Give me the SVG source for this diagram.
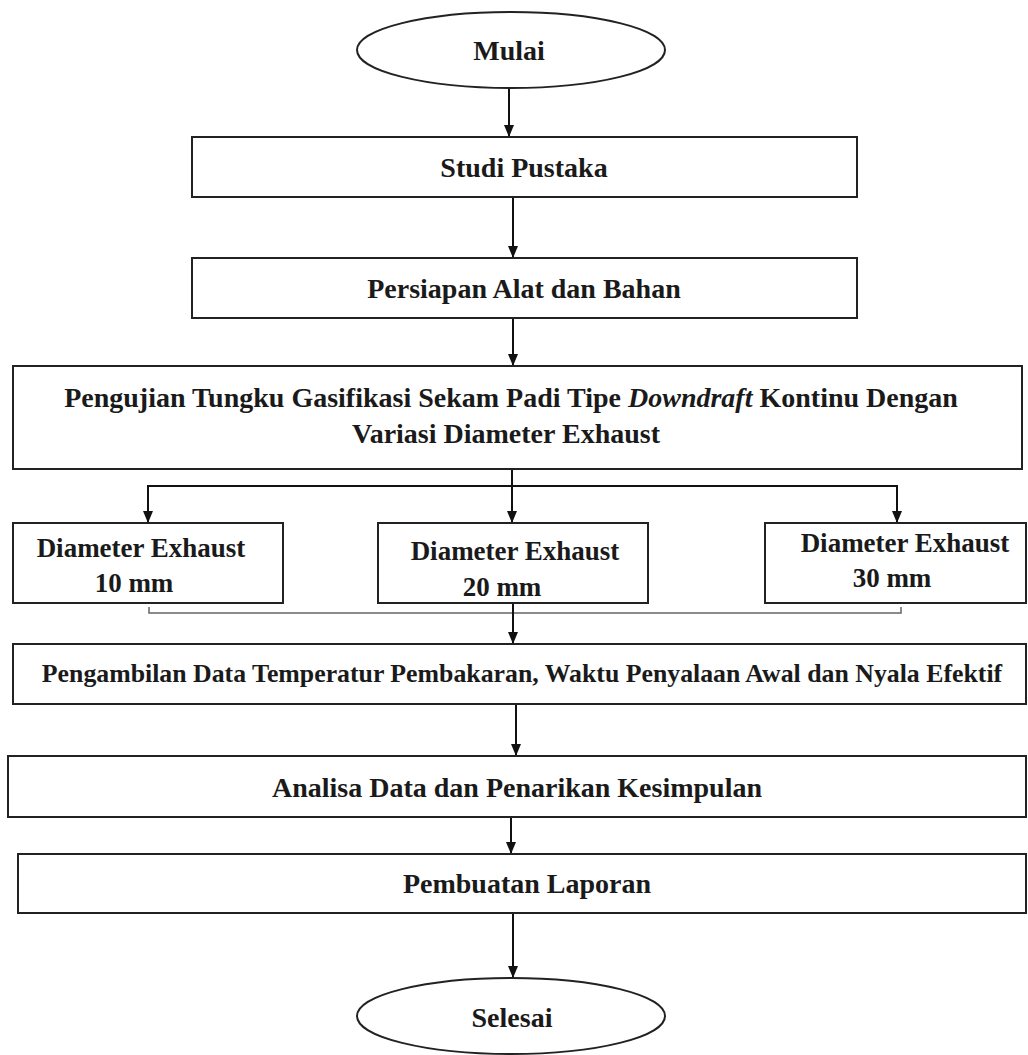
<svg xmlns="http://www.w3.org/2000/svg" width="1028" height="1055" viewBox="0 0 1028 1055">
  <defs>
    <marker id="arr" markerUnits="userSpaceOnUse" markerWidth="12" markerHeight="12" viewBox="0 0 12 10" refX="12" refY="5" orient="auto">
      <path d="M0,0 L12,5 L0,10 z" fill="#111"/>
    </marker>
    <style>
      .box { fill: #fff; stroke: #222; stroke-width: 2; }
      .t { font-family: "Liberation Serif", "Times New Roman", serif; font-weight: bold; font-size: 28px; fill: #1a1a1a; text-anchor: middle; }
      .c { font-family: "Liberation Serif", "Times New Roman", serif; font-weight: bold; font-size: 27px; fill: #1a1a1a; text-anchor: middle; }
      .ln { fill: none; stroke: #111; stroke-width: 2; }
      .br { fill: none; stroke: #666; stroke-width: 1.5; }
    </style>
  </defs>
  <rect width="1028" height="1055" fill="#fff"/>

  <g id="connectors">
    <path class="ln" d="M509,88 V137" marker-end="url(#arr)"/>
    <path class="ln" d="M513,197 V258" marker-end="url(#arr)"/>
    <path class="ln" d="M513,318 V366" marker-end="url(#arr)"/>
    <path class="ln" d="M512,469 V523" marker-end="url(#arr)"/>
    <path class="ln" d="M512,486 H148 V523" marker-end="url(#arr)"/>
    <path class="ln" d="M512,486 H897 V523" marker-end="url(#arr)"/>
    <path class="br" d="M149,607 V613 H901 V607"/>
    <path class="ln" d="M513,603 V644" marker-end="url(#arr)"/>
    <path class="ln" d="M516,704 V756" marker-end="url(#arr)"/>
    <path class="ln" d="M511,817 V854" marker-end="url(#arr)"/>
    <path class="ln" d="M513,913 V978" marker-end="url(#arr)"/>
  </g>

  <g id="mulai">
    <ellipse class="box" cx="511" cy="50" rx="154" ry="38"/>
    <text class="t" x="509" y="60">Mulai</text>
  </g>
  <g id="studi-pustaka">
    <rect class="box" x="192" y="137" width="665" height="60"/>
    <text class="t" x="524" y="177">Studi Pustaka</text>
  </g>
  <g id="persiapan">
    <rect class="box" x="192" y="258" width="665" height="60"/>
    <text class="t" x="524" y="298">Persiapan Alat dan Bahan</text>
  </g>
  <g id="pengujian">
    <rect class="box" x="13" y="366" width="1009" height="103"/>
    <text class="t" x="511" y="407">Pengujian Tungku Gasifikasi Sekam Padi Tipe <tspan font-style="italic">Downdraft</tspan> Kontinu Dengan</text>
    <text class="t" x="506" y="443">Variasi Diameter Exhaust</text>
  </g>
  <g id="diameter-10">
    <rect class="box" x="13" y="523" width="270" height="80"/>
    <text class="c" x="141" y="557">Diameter Exhaust</text>
    <text class="c" x="134" y="592">10 mm</text>
  </g>
  <g id="diameter-20">
    <rect class="box" x="378" y="523" width="270" height="80"/>
    <text class="c" x="515" y="560">Diameter Exhaust</text>
    <text class="c" x="502" y="596">20 mm</text>
  </g>
  <g id="diameter-30">
    <rect class="box" x="765" y="523" width="261" height="80"/>
    <text class="c" x="905" y="552">Diameter Exhaust</text>
    <text class="c" x="892" y="587">30 mm</text>
  </g>
  <g id="pengambilan">
    <rect class="box" x="13" y="644" width="1013" height="60"/>
    <text class="t" x="522" y="682" style="font-size:25.8px">Pengambilan Data Temperatur Pembakaran, Waktu Penyalaan Awal dan Nyala Efektif</text>
  </g>
  <g id="analisa">
    <rect class="box" x="8" y="756" width="1018" height="61"/>
    <text class="t" x="517" y="797">Analisa Data dan Penarikan Kesimpulan</text>
  </g>
  <g id="pembuatan">
    <rect class="box" x="18" y="854" width="1008" height="59"/>
    <text class="t" x="527" y="893">Pembuatan Laporan</text>
  </g>
  <g id="selesai">
    <ellipse class="box" cx="511" cy="1016" rx="154" ry="38"/>
    <text class="t" x="512" y="1027">Selesai</text>
  </g>
</svg>
